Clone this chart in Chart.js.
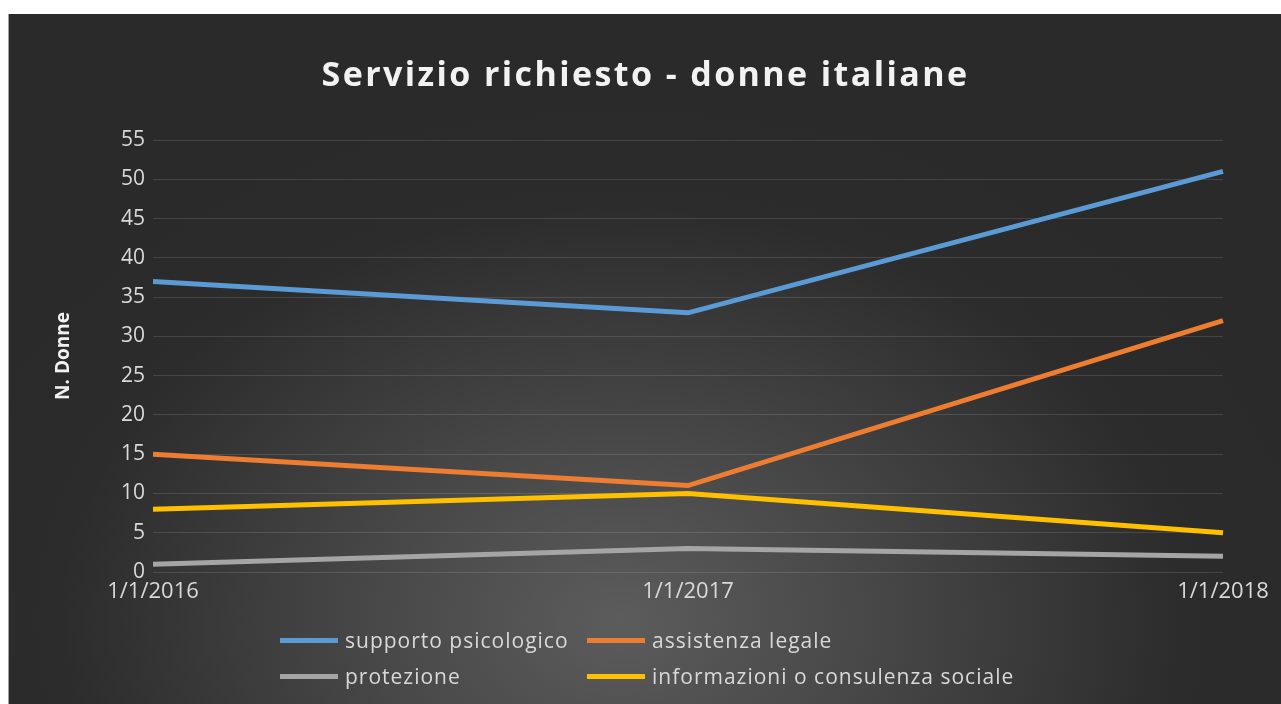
<!DOCTYPE html>
<html>
<head>
<meta charset="utf-8">
<script src="https://cdn.jsdelivr.net/npm/chart.js@4"></script>
<style>
  html, body { margin: 0; padding: 0; background: #fff; }
  body { width: 1281px; height: 704px; position: relative; overflow: hidden; }
  #box {
    position: absolute; left: 8px; top: 14px; width: 1273px; height: 690px;
    border-left: 1px solid #a0a0a0;
    background: radial-gradient(ellipse 55% 75% at 48% 88%, #5c5c5c 0%, #484848 35%, #2c2c2c 80%, #2a2a2a 100%);
  }
  #title {
    position: absolute; left: 0; width: 100%; top: 36px; text-align: center;
    font: bold 34px "Open Sans", sans-serif; letter-spacing: 2.4px; color: #f2f2f2;
  }
  #wrap { position: absolute; left: 0; top: 0; width: 1272px; height: 690px; }
  .leg { position: absolute; font: 21px "Open Sans", sans-serif; letter-spacing: 1px; color: #d9d9d9; white-space: nowrap; }
  .leg i { display: inline-block; width: 58px; height: 5px; vertical-align: middle; margin-right: 7px; position: relative; top: -2px; }
</style>
</head>
<body>
<div id="box">
  <div id="wrap"><canvas id="chart"></canvas></div>
  <div id="title">Servizio richiesto - donne italiane</div>
  <div id="legend"></div>
</div>
<script>
const labels = ['1/1/2016', '1/1/2017', '1/1/2018'];
const seriesNames = ['supporto psicologico', 'assistenza legale', 'protezione', 'informazioni o consulenza sociale'];
const supporto = [37, 33, 51];
const legale = [15, 11, 32];
const protezione = [1, 3, 2];
const informazioni = [8, 10, 5];
const colors = ['#5B9BD5', '#ED7D31', '#A5A5A5', '#FFC000'];

const values = [supporto, legale, protezione, informazioni];

const datasets = values.map((v, i) => ({
  label: seriesNames[i],
  data: v,
  borderColor: colors[i],
  backgroundColor: colors[i],
  borderWidth: 5,
  pointRadius: 0,
  tension: 0,
  fill: false
}));

// legenda a due colonne
const legPos = [[271, 612], [578, 612], [271, 648], [578, 648]];
document.getElementById('legend').innerHTML = seriesNames.map((n, i) =>
  `<div class="leg" style="left:${legPos[i][0]}px;top:${legPos[i][1]}px"><i style="background:${colors[i]}"></i>${n}</div>`
).join('');

new Chart(document.getElementById('chart'), {
  type: 'line',
  data: { labels: labels, datasets: datasets },
  options: {
    responsive: true,
    maintainAspectRatio: false,
    animation: false,
    layout: { padding: { top: 126, right: 58, bottom: 92, left: 0 } },
    plugins: { legend: { display: false }, title: { display: false }, tooltip: { enabled: false } },
    scales: {
      x: {
        offset: false,
        grid: { display: false, drawTicks: false },
        border: { display: false },
        ticks: { color: '#d9d9d9', font: { family: 'Open Sans', size: 22 }, padding: 7, maxRotation: 0, autoSkip: false },
        afterFit: s => { s.height = 40; }
      },
      y: {
        min: 0, max: 55,
        grid: { color: 'rgba(255,255,255,0.12)', drawTicks: false },
        border: { display: false },
        ticks: { stepSize: 5, color: '#d9d9d9', font: { family: 'Open Sans', size: 21 }, padding: 8 },
        title: { display: true, text: 'N. Donne', color: '#f2f2f2', font: { family: 'Open Sans', size: 19, weight: 'bold' }, padding: { top: 43 } },
        afterFit: s => { s.width = 144; }
      }
    }
  }
});
</script>
</body>
</html>
